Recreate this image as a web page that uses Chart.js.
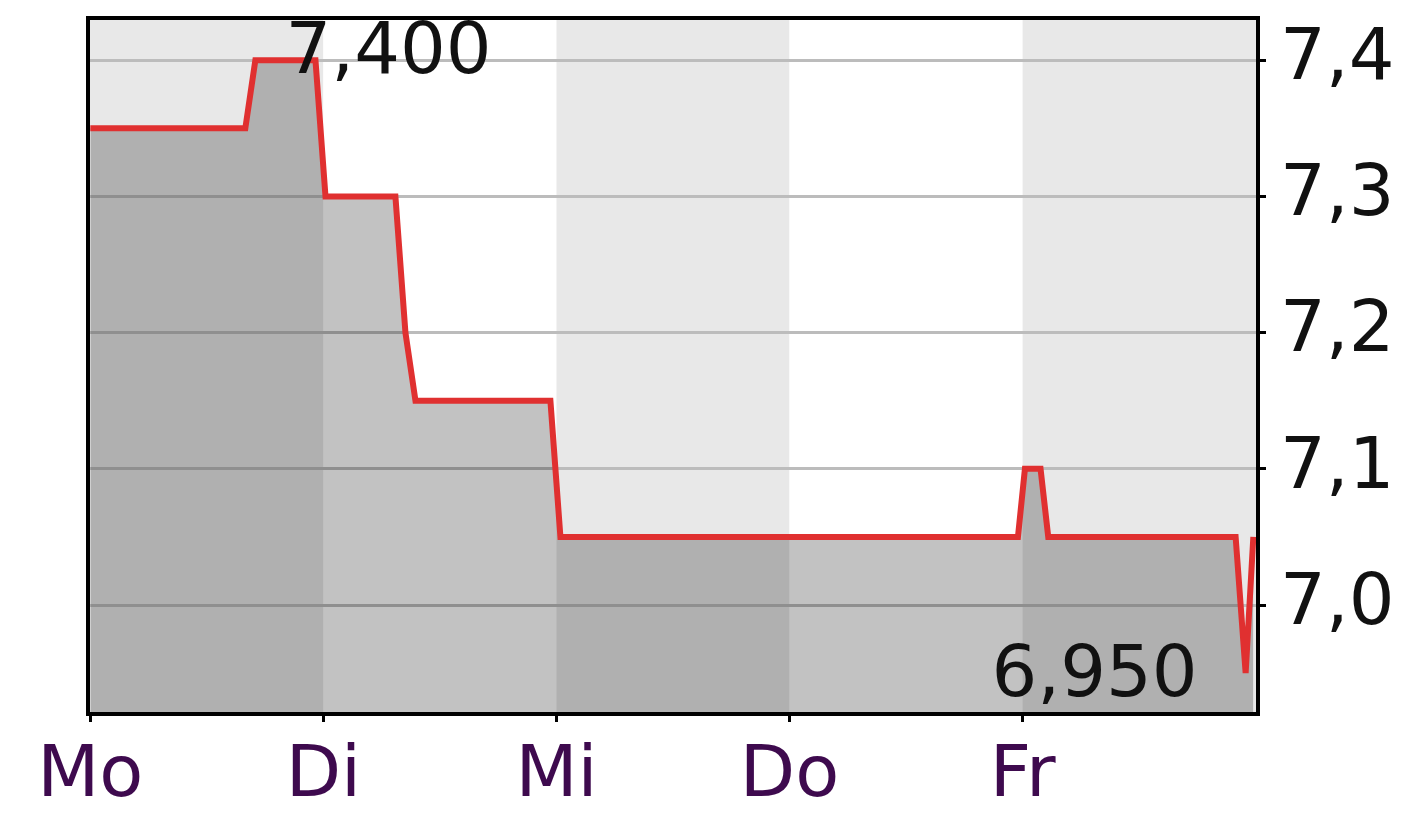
<!DOCTYPE html>
<html>
<head>
<meta charset="utf-8">
<script src="https://cdn.jsdelivr.net/npm/chart.js@4/dist/chart.umd.min.js"></script>
<style>
  html, body { margin: 0; padding: 0; background: #fff; }
  #wrap { width: 1416px; height: 825px; position: relative; }
</style>
</head>
<body>
<div id="wrap"><canvas id="chart"></canvas></div>
<script>
// Days on the x axis (0 = Monday)
const dayLabels = ["Mo", "Di", "Mi", "Do", "Fr"];
// Price path, x in days since Monday open
const timeX = [0, 0.665, 0.708, 0.966, 1.009, 1.309, 1.352, 1.395, 1.974, 2.017, 3.98, 4.01, 4.077, 4.11, 4.914, 4.957, 4.99];
const priceY = [7.35, 7.35, 7.40, 7.40, 7.30, 7.30, 7.20, 7.15, 7.15, 7.05, 7.05, 7.10, 7.10, 7.05, 7.05, 6.95, 7.05];
const yTicks = [7.0, 7.1, 7.2, 7.3, 7.4];
const bandColors = ["#e8e8e8", "#ffffff", "#e8e8e8", "#ffffff", "#e8e8e8"];

const fmt = (v, d) => v.toFixed(d).replace(".", ",");
const FONT = "DejaVu Sans, Verdana, sans-serif";

// alternating day bands behind everything
const bandsPlugin = {
  id: "bands",
  beforeDraw(chart) {
    const { ctx, chartArea: a, scales: { x } } = chart;
    ctx.save();
    ctx.fillStyle = "#fff";
    ctx.fillRect(0, 0, chart.width, chart.height);
    bandColors.forEach((c, i) => {
      const x0 = i === 0 ? a.left : x.getPixelForValue(i);
      const x1 = i === bandColors.length - 1 ? a.right : x.getPixelForValue(i + 1);
      ctx.fillStyle = c;
      ctx.fillRect(x0, a.top, x1 - x0, a.bottom - a.top);
    });
    ctx.restore();
  }
};

// frame + min/max labels
const framePlugin = {
  id: "frame",
  afterDatasetsDraw(chart) {
    const { ctx, chartArea: a, scales: { x, y } } = chart;
    const maxV = Math.max(...priceY), minV = Math.min(...priceY);
    const iMax = priceY.lastIndexOf(maxV), iMin = priceY.indexOf(minV);
    ctx.save();
    ctx.font = "72px " + FONT;
    ctx.fillStyle = "#111";
    ctx.textBaseline = "middle";
    ctx.textAlign = "left";
    ctx.fillText(fmt(maxV, 3), x.getPixelForValue(timeX[iMax]) - 30, y.getPixelForValue(maxV) - 6);
    ctx.textAlign = "right";
    ctx.fillText(fmt(minV, 3), x.getPixelForValue(timeX[iMin]) - 48, y.getPixelForValue(minV) + 4);
    ctx.lineWidth = 4;
    ctx.strokeStyle = "#000";
    ctx.strokeRect(a.left, a.top, a.right - a.left, a.bottom - a.top);
    ctx.restore();
  }
};

new Chart(document.getElementById("chart"), {
  type: "line",
  data: {
    datasets: [{
      data: timeX.map((t, i) => ({ x: t, y: priceY[i] })),
      borderColor: "#e03030",
      borderWidth: 6,
      backgroundColor: "rgba(0,0,0,0.24)",
      fill: "start",
      pointRadius: 0,
      tension: 0
    }]
  },
  options: {
    responsive: true,
    maintainAspectRatio: false,
    animation: false,
    layout: { padding: { left: 88, top: 18, right: 0, bottom: 0 } },
    plugins: { legend: { display: false }, tooltip: { enabled: false } },
    scales: {
      x: {
        type: "linear",
        min: -0.01,
        max: 5.01,
        afterBuildTicks(s) { s.ticks = dayLabels.map((_, i) => ({ value: i })); },
        afterFit(s) { s.height = 111; s.paddingLeft = 0; s.paddingRight = 0; },
        ticks: {
          callback: (v) => dayLabels[v],
          color: "#3e0a4e",
          font: { family: FONT, size: 72 },
          padding: 12,
          maxRotation: 0,
          autoSkip: false
        },
        grid: { drawOnChartArea: false, tickColor: "#000", tickLength: 8, lineWidth: 3 },
        border: { display: false }
      },
      y: {
        position: "right",
        min: 6.92,
        max: 7.431,
        afterBuildTicks(s) { s.ticks = yTicks.map((v) => ({ value: v })); },
        afterFit(s) { s.width = 158; s.paddingTop = 0; s.paddingBottom = 0; },
        ticks: {
          callback: (v) => fmt(v, 1),
          color: "#111",
          font: { family: FONT, size: 72 },
          padding: 14
        },
        grid: { color: "#bcbcbc", lineWidth: 3, tickColor: "#000", tickLength: 8 },
        border: { display: false }
      }
    }
  },
  plugins: [bandsPlugin, framePlugin]
});
</script>
</body>
</html>
